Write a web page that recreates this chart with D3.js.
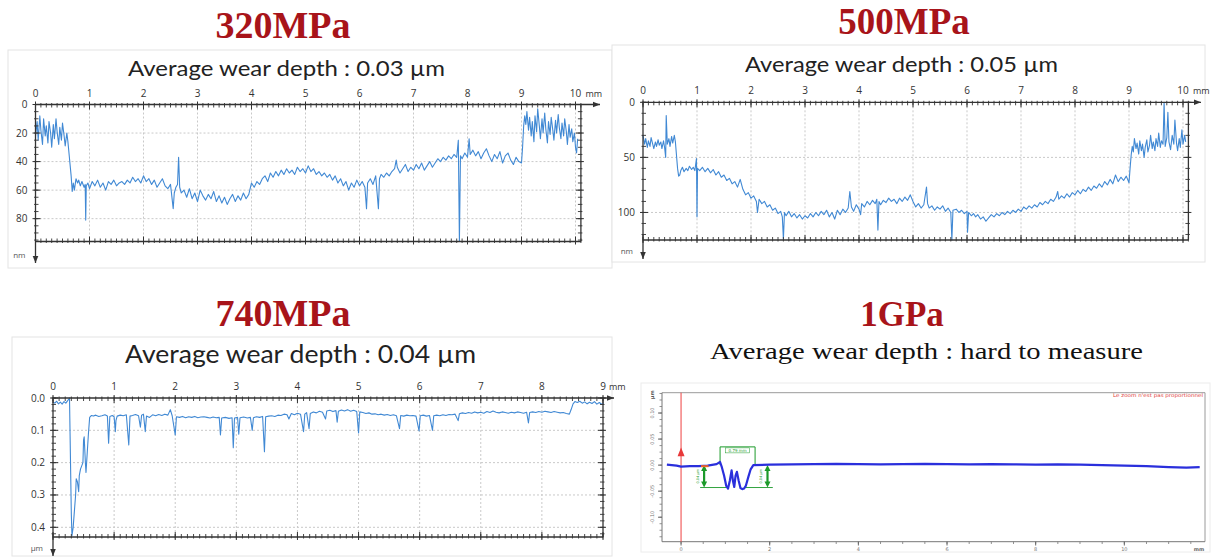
<!DOCTYPE html>
<html><head><meta charset="utf-8">
<script src="https://cdn.jsdelivr.net/npm/d3@7"></script>
<style>body{margin:0;background:#fff}svg{display:block}</style>
</head><body>
<svg id="c" width="1212" height="558"></svg>
<script>
// ---------------- DATA ----------------
const titles = ["320MPa", "500MPa", "740MPa", "1GPa"];
const subtitles = ["Average wear depth : 0.03 µm", "Average wear depth : 0.05 µm",
  "Average wear depth : 0.04 µm", "Average wear depth : hard to measure"];

const xTicks10 = [0,1,2,3,4,5,6,7,8,9,10];
const xTicks9 = [0,1,2,3,4,5,6,7,8,9];
const yTicks320 = [0,20,40,60,80];
const yTicks500 = [0,50,100];
const yTicks740 = [0,0.1,0.2,0.3,0.4];
const xTicks1G = [0,2,4,6,8,10];
const yTicks1G = [0.1,0.05,0,-0.05,-0.1];
const yLabels1G = ["0.10","0.05","0.00","-0.05","-0.10"];

// profile 320 MPa: [mm, depth nm]
const p320 = [[0,22],[0.03,12],[0.05,25],[0.08,8],[0.1,18],[0.13,28],[0.15,10],[0.18,22],[0.2,15],[0.23,27],[0.25,12],[0.28,20],[0.3,30],[0.33,14],[0.35,24],[0.38,10],[0.4,19],[0.43,28],[0.45,16],[0.48,25],[0.5,13],[0.53,22],[0.55,29],[0.58,20],[0.6,26],
[0.62,34],[0.64,42],[0.66,50],[0.68,61],[0.7,55],[0.72,60],[0.75,52],[0.78,55],[0.8,53],[0.83,57],[0.86,54],[0.9,58],[0.92,56],[0.93,81],[0.94,57],[0.97,55],[1,59],[1.05,54],[1.1,57],[1.15,53],[1.2,58],[1.25,55],[1.3,60],[1.35,54],[1.4,56],[1.45,53],[1.5,57],[1.55,55],[1.6,54],[1.65,56],[1.7,53],[1.75,55],[1.8,51],[1.85,54],[1.9,52],[1.95,55],[2,50],[2.05,54],[2.1,52],[2.15,56],[2.2,53],[2.25,58],[2.3,55],[2.35,52],[2.4,57],[2.45,59],[2.5,56],[2.55,73],[2.57,62],[2.6,58],[2.63,56],[2.65,37],[2.67,58],[2.7,62],[2.75,60],[2.8,65],[2.85,59],[2.9,66],[2.95,62],[3,68],[3.05,60],[3.1,64],[3.15,67],[3.2,63],[3.25,66],[3.3,61],[3.35,68],[3.4,64],[3.45,69],[3.5,65],[3.55,70],[3.6,66],[3.65,63],[3.7,68],[3.75,64],[3.8,67],[3.85,62],[3.9,66],[3.95,63],[4,55],[4.05,58],[4.1,54],[4.15,56],[4.2,52],[4.25,50],[4.3,54],[4.35,48],[4.4,51],[4.45,47],[4.5,50],[4.55,46],[4.6,49],[4.65,45],[4.7,48],[4.75,46],[4.8,49],[4.85,44],[4.9,47],[4.95,45],[5,48],[5.05,43],[5.1,47],[5.15,45],[5.2,49],[5.25,47],[5.3,50],[5.35,48],[5.4,51],[5.45,49],[5.5,53],[5.55,50],[5.6,55],[5.65,52],[5.7,57],[5.75,54],[5.8,60],[5.85,55],[5.9,58],[5.95,53],[6,57],[6.05,54],[6.1,58],[6.13,73],[6.15,55],[6.2,52],[6.25,56],[6.3,50],[6.35,73],[6.37,52],[6.4,49],[6.45,51],[6.5,48],[6.55,50],[6.6,47],[6.65,45],[6.68,39],[6.7,44],[6.75,48],[6.8,45],[6.85,42],[6.9,47],[6.95,44],[7,46],[7.05,42],[7.1,45],[7.15,41],[7.2,46],[7.25,43],[7.3,40],[7.35,44],[7.4,41],[7.45,38],[7.5,40],[7.55,37],[7.6,39],[7.65,36],[7.7,38],[7.75,35],[7.8,37],[7.83,25],[7.85,96],[7.87,36],[7.9,38],[7.95,34],[8,37],[8.03,24],[8.05,35],[8.1,32],[8.15,36],[8.2,33],[8.25,38],[8.3,34],[8.35,31],[8.4,36],[8.45,40],[8.5,35],[8.55,38],[8.6,33],[8.65,41],[8.7,36],[8.75,34],[8.8,39],[8.85,42],[8.9,37],[8.95,40],[9,41],[9.02,30],[9.04,15],[9.06,8],[9.08,14],[9.1,5],[9.13,18],[9.15,9],[9.18,22],[9.2,12],[9.23,26],[9.25,8],[9.28,19],[9.3,3],[9.33,15],[9.35,24],[9.38,10],[9.4,20],[9.43,6],[9.45,17],[9.48,27],[9.5,12],[9.53,21],[9.55,9],[9.58,18],[9.6,25],[9.63,11],[9.65,20],[9.68,7],[9.7,16],[9.73,24],[9.75,13],[9.78,22],[9.8,10],[9.83,19],[9.85,28],[9.88,14],[9.9,23],[9.93,17],[9.95,26],[9.98,20],[10,30],[10.02,34],[10.04,24]];

// profile 500 MPa: [mm, depth nm]
const p500 = [[0,30],[0.03,38],[0.05,33],[0.08,41],[0.1,35],[0.13,40],[0.15,32],[0.18,38],[0.2,42],[0.23,36],[0.25,40],[0.28,34],[0.3,39],[0.33,36],[0.35,42],[0.38,35],[0.4,41],[0.42,50],[0.43,12],[0.45,38],[0.48,33],[0.5,40],[0.53,31],[0.55,37],[0.58,30],[0.6,36],[0.62,48],[0.64,60],[0.66,67],[0.68,66],[0.7,62],[0.73,59],[0.76,63],[0.8,60],[0.83,62],[0.86,58],[0.9,61],[0.93,59],[0.96,62],[0.99,51],[1,104],[1.01,60],[1.05,62],[1.1,59],[1.15,63],[1.2,60],[1.25,64],[1.3,61],[1.35,66],[1.4,63],[1.45,68],[1.5,66],[1.55,71],[1.6,69],[1.65,74],[1.7,72],[1.75,77],[1.8,70],[1.85,79],[1.9,84],[1.95,82],[2,87],[2.05,85],[2.1,90],[2.12,100],[2.15,88],[2.2,92],[2.25,90],[2.3,95],[2.35,93],[2.4,98],[2.45,96],[2.5,101],[2.55,99],[2.58,104],[2.6,124],[2.62,100],[2.65,103],[2.7,99],[2.75,104],[2.8,101],[2.85,105],[2.9,102],[2.95,106],[3,103],[3.05,105],[3.1,101],[3.15,104],[3.2,100],[3.25,103],[3.3,99],[3.35,102],[3.4,98],[3.45,104],[3.5,100],[3.55,106],[3.6,98],[3.65,102],[3.7,97],[3.75,100],[3.8,96],[3.83,81],[3.86,95],[3.9,99],[3.95,93],[4,97],[4.03,102],[4.05,92],[4.1,95],[4.15,90],[4.2,93],[4.25,89],[4.3,92],[4.33,88],[4.35,116],[4.37,90],[4.4,93],[4.45,89],[4.5,91],[4.55,87],[4.6,90],[4.65,88],[4.7,92],[4.75,87],[4.8,90],[4.85,86],[4.9,89],[4.95,84],[5,90],[5.05,95],[5.1,92],[5.15,96],[5.2,93],[5.25,77],[5.27,92],[5.3,96],[5.35,94],[5.4,98],[5.45,95],[5.5,97],[5.55,94],[5.6,99],[5.65,96],[5.7,100],[5.72,125],[5.74,98],[5.8,97],[5.85,100],[5.9,98],[5.95,101],[6,99],[6.01,118],[6.03,100],[6.08,103],[6.12,101],[6.16,104],[6.2,102],[6.25,106],[6.3,104],[6.35,108],[6.4,105],[6.45,102],[6.5,104],[6.55,101],[6.6,103],[6.65,100],[6.7,102],[6.75,99],[6.8,101],[6.85,98],[6.9,100],[6.95,97],[7,99],[7.05,95],[7.1,97],[7.15,94],[7.2,96],[7.25,93],[7.3,95],[7.35,91],[7.4,93],[7.45,90],[7.5,92],[7.55,88],[7.6,90],[7.65,86],[7.68,81],[7.7,88],[7.75,85],[7.8,87],[7.85,83],[7.9,86],[7.95,82],[8,84],[8.05,80],[8.1,83],[8.15,79],[8.2,81],[8.25,77],[8.3,80],[8.35,76],[8.4,78],[8.45,74],[8.5,77],[8.55,72],[8.6,75],[8.65,70],[8.7,74],[8.75,66],[8.8,72],[8.85,68],[8.9,71],[8.95,67],[9,73],[9.02,60],[9.04,48],[9.06,40],[9.08,45],[9.1,33],[9.13,42],[9.15,37],[9.18,47],[9.2,35],[9.23,44],[9.25,38],[9.28,50],[9.3,41],[9.33,34],[9.35,45],[9.38,39],[9.4,30],[9.43,42],[9.45,36],[9.48,44],[9.5,33],[9.53,40],[9.55,28],[9.58,41],[9.6,35],[9.63,38],[9.65,0],[9.67,40],[9.7,32],[9.72,9],[9.74,36],[9.77,43],[9.8,30],[9.83,38],[9.85,16],[9.88,37],[9.9,44],[9.93,33],[9.95,41],[9.98,25],[10,38],[10.03,30],[10.05,36]];

// profile 740 MPa: [mm, depth µm]
const p740 = [[0,0.012],[0.03,0.016],[0.06,0.01],[0.09,0.018],[0.12,0.013],[0.15,0.019],[0.18,0.011],[0.21,0.016],[0.24,0.008],[0.26,0.003],[0.27,0],[0.28,0.12],[0.3,0.36],[0.31,0.426],[0.33,0.4],[0.35,0.35],[0.37,0.3],[0.38,0.25],[0.4,0.26],[0.42,0.29],[0.43,0.24],[0.45,0.22],[0.47,0.21],[0.49,0.2],[0.5,0.13],[0.51,0.12],[0.53,0.2],[0.54,0.23],[0.56,0.17],[0.58,0.11],[0.6,0.06],[0.63,0.054],[0.66,0.056],[0.7,0.053],[0.75,0.057],[0.8,0.055],[0.85,0.052],[0.89,0.056],[0.91,0.14],[0.93,0.057],[0.97,0.054],[1,0.058],[1.02,0.104],[1.03,0.07],[1.05,0.056],[1.1,0.053],[1.15,0.055],[1.2,0.052],[1.24,0.145],[1.26,0.056],[1.3,0.054],[1.35,0.051],[1.4,0.055],[1.43,0.09],[1.45,0.053],[1.48,0.05],[1.51,0.104],[1.53,0.056],[1.58,0.06],[1.63,0.052],[1.68,0.055],[1.73,0.051],[1.78,0.054],[1.83,0.05],[1.88,0.053],[1.92,0.036],[1.95,0.055],[2,0.114],[2.02,0.058],[2.07,0.06],[2.12,0.057],[2.17,0.061],[2.22,0.058],[2.27,0.06],[2.32,0.057],[2.37,0.061],[2.42,0.059],[2.47,0.058],[2.52,0.06],[2.57,0.062],[2.62,0.059],[2.67,0.061],[2.72,0.06],[2.74,0.114],[2.76,0.062],[2.82,0.06],[2.88,0.063],[2.93,0.061],[2.95,0.154],[2.97,0.062],[3.02,0.06],[3.04,0.112],[3.06,0.061],[3.12,0.059],[3.18,0.062],[3.23,0.06],[3.26,0.1],[3.28,0.061],[3.33,0.058],[3.38,0.06],[3.43,0.057],[3.46,0.166],[3.48,0.058],[3.53,0.056],[3.58,0.055],[3.63,0.057],[3.68,0.053],[3.73,0.054],[3.78,0.05],[3.83,0.052],[3.86,0.065],[3.9,0.048],[3.95,0.052],[4,0.047],[4.05,0.05],[4.1,0.104],[4.12,0.05],[4.15,0.045],[4.19,0.095],[4.21,0.048],[4.26,0.043],[4.31,0.046],[4.36,0.041],[4.41,0.044],[4.46,0.065],[4.48,0.04],[4.53,0.038],[4.58,0.042],[4.63,0.039],[4.65,0.075],[4.67,0.041],[4.72,0.037],[4.77,0.04],[4.82,0.036],[4.87,0.041],[4.92,0.038],[4.97,0.042],[5,0.108],[5.02,0.043],[5.07,0.045],[5.12,0.048],[5.17,0.046],[5.22,0.05],[5.27,0.049],[5.32,0.052],[5.37,0.05],[5.42,0.053],[5.47,0.051],[5.52,0.054],[5.57,0.052],[5.62,0.055],[5.67,0.095],[5.69,0.054],[5.74,0.056],[5.79,0.053],[5.84,0.055],[5.89,0.054],[5.94,0.056],[5.99,0.102],[6.01,0.055],[6.06,0.053],[6.11,0.056],[6.16,0.054],[6.21,0.1],[6.23,0.055],[6.28,0.053],[6.33,0.055],[6.38,0.052],[6.43,0.054],[6.48,0.051],[6.53,0.052],[6.58,0.05],[6.63,0.07],[6.65,0.049],[6.7,0.046],[6.75,0.048],[6.8,0.045],[6.85,0.047],[6.9,0.043],[6.95,0.046],[7,0.044],[7.05,0.047],[7.1,0.042],[7.15,0.045],[7.2,0.04],[7.25,0.044],[7.3,0.046],[7.35,0.043],[7.4,0.045],[7.45,0.047],[7.5,0.044],[7.55,0.046],[7.6,0.043],[7.65,0.045],[7.7,0.047],[7.75,0.044],[7.78,0.077],[7.8,0.045],[7.85,0.043],[7.9,0.045],[7.95,0.042],[8,0.044],[8.05,0.041],[8.1,0.043],[8.15,0.045],[8.2,0.042],[8.25,0.044],[8.3,0.046],[8.35,0.045],[8.4,0.048],[8.45,0.05],[8.48,0.035],[8.51,0.018],[8.54,0.011],[8.58,0.014],[8.62,0.01],[8.66,0.016],[8.7,0.012],[8.74,0.018],[8.78,0.013],[8.82,0.017],[8.86,0.011],[8.9,0.019],[8.94,0.014],[8.98,0.02],[9.01,0.016]];

// profile 1 GPa: [mm, height µm]
const p1g = [[-0.32,0.001],[-0.1,-0.001],[0,-0.003],[0.2,-0.002],[0.4,-0.002],[0.6,-0.001],[0.8,0.002],[0.88,0.006],[0.92,-0.004],[0.97,-0.02],[1.02,-0.04],[1.06,-0.045],[1.1,-0.03],[1.14,-0.01],[1.17,-0.03],[1.2,-0.042],[1.23,-0.02],[1.26,-0.013],[1.3,-0.03],[1.34,-0.044],[1.38,-0.046],[1.42,-0.045],[1.46,-0.04],[1.52,-0.022],[1.57,-0.008],[1.63,0],[2,0.001],[2.5,0.0015],[3,0.002],[3.5,0.0025],[4,0.002],[4.5,0.0015],[5,0.002],[5.5,0.0025],[6,0.002],[6.5,0.0015],[7,0.002],[7.5,0.0015],[8,0.001],[8.5,0.0015],[9,0.001],[9.5,0],[10,-0.001],[10.5,-0.002],[11,-0.004],[11.4,-0.005],[11.7,-0.004]];

// annotations on the 1 GPa profile (mm, µm)
const bracketTop1G = [0.88, 1.67, 0.035];
const depthLines1G = [[0.43, 1.06, -0.043], [1.44, 2.07, -0.043]];
const depthArrows1G = [0.52, 1.95];
const widthLabel1G = "0.79 mm";
const depthLabel1G = "0.04 µm";
const noteText1G = "Le zoom n'est pas proportionnel";

// ---------------- DRAW ----------------
const svg = d3.select("#c");
svg.append("rect").attr("width",1212).attr("height",558).attr("fill","#fff");
const defs = svg.append("defs");
defs.append("marker").attr("id","arr").attr("viewBox","0 0 10 10").attr("refX",10).attr("refY",5)
  .attr("markerWidth",7).attr("markerHeight",7).attr("markerUnits","userSpaceOnUse").attr("orient","auto")
  .append("path").attr("d","M0,1L10,5L0,9z").attr("fill","#333");

const TITLE_COLOR = "#a8141a";
const AX = "#333";
const TRACE = "#4189d4";

function title(txt, cx, base, size){
  svg.append("text").attr("x",cx).attr("y",base).attr("text-anchor","middle")
    .attr("font-family","'Liberation Serif','Times New Roman',serif").attr("font-weight","bold")
    .attr("font-size",size || 38).attr("fill",TITLE_COLOR).text(txt);
}
function subtitle(txt, x0, x1, base, size, serif){
  svg.append("text").attr("x",x0).attr("y",base)
    .attr("font-family", serif ? "'Liberation Serif',serif" : "Lato,'Open Sans',sans-serif")
    .attr("font-size",size).attr("fill", serif ? "#111" : "#222")
    .attr("textLength",x1-x0).attr("lengthAdjust","spacingAndGlyphs").text(txt);
}

function profile(c){
  const g = svg.append("g");
  g.append("rect").attr("x",c.box[0]).attr("y",c.box[1]).attr("width",c.box[2]-c.box[0]).attr("height",c.box[3]-c.box[1])
    .attr("fill","#fff").attr("stroke","#e4e4e4");
  const x = d3.scaleLinear().domain(c.xd).range(c.xr);
  const y = d3.scaleLinear().domain(c.yd).range(c.yr);
  const yTop = y(c.yd[0]), yBot = y(c.yd[1]), xL = x(c.xd[0]), xR = x(c.xd[1]);
  // grid
  g.selectAll(null).data(c.xt.filter(v=>v>c.xd[0] && v<c.xd[1])).join("line")
    .attr("x1",d=>x(d)).attr("x2",d=>x(d)).attr("y1",yTop).attr("y2",yBot)
    .attr("stroke","#c9c9c9").attr("stroke-dasharray","2,2");
  g.selectAll(null).data(c.yt.filter(v=>v>c.yd[0] && v<c.yd[1])).join("line")
    .attr("x1",xL).attr("x2",xR).attr("y1",d=>y(d)).attr("y2",d=>y(d))
    .attr("stroke","#c9c9c9").attr("stroke-dasharray","2,2");
  // trace
  g.append("path").datum(c.data)
    .attr("d", d3.line().x(d=>x(d[0])).y(d=>y(Math.min(d[1],c.yd[1]))))
    .attr("fill","none").attr("stroke",TRACE).attr("stroke-width",1.1).attr("stroke-linejoin","round");
  // axes lines
  g.append("line").attr("x1",xL).attr("x2",c.arrowX).attr("y1",yTop).attr("y2",yTop)
    .attr("stroke",AX).attr("stroke-width",1.3).attr("marker-end","url(#arr)");
  g.append("line").attr("x1",xL).attr("x2",xL).attr("y1",yTop).attr("y2",c.arrowY)
    .attr("stroke",AX).attr("stroke-width",1.3).attr("marker-end","url(#arr)");
  g.append("line").attr("x1",xL).attr("x2",xR).attr("y1",yBot).attr("y2",yBot).attr("stroke",AX).attr("stroke-width",1.3);
  g.append("line").attr("x1",xR).attr("x2",xR).attr("y1",yTop).attr("y2",yBot).attr("stroke",AX).attr("stroke-width",1.3);
  // ticks x (top and bottom)
  const xMinor = d3.range(c.xd[0], c.xd[1]+1e-9, c.xm);
  const yMinor = d3.range(c.yd[0], c.yd[1]+1e-9, c.ym);
  [[yTop,1],[yBot,-1]].forEach(([yy,s])=>{
    g.selectAll(null).data(xMinor).join("line").attr("x1",d=>x(d)).attr("x2",d=>x(d))
      .attr("y1",yy-1.5*s).attr("y2",yy+3*s).attr("stroke",AX).attr("stroke-width",0.9);
    g.selectAll(null).data(c.xt).join("line").attr("x1",d=>x(d)).attr("x2",d=>x(d))
      .attr("y1",yy-3*s).attr("y2",yy+5*s).attr("stroke",AX).attr("stroke-width",1);
  });
  [[xL,1],[xR,-1]].forEach(([xx,s])=>{
    g.selectAll(null).data(yMinor).join("line").attr("y1",d=>y(d)).attr("y2",d=>y(d))
      .attr("x1",xx-1.5*s).attr("x2",xx+3*s).attr("stroke",AX).attr("stroke-width",0.9);
    g.selectAll(null).data(c.yt).join("line").attr("y1",d=>y(d)).attr("y2",d=>y(d))
      .attr("x1",xx-3*s).attr("x2",xx+5*s).attr("stroke",AX).attr("stroke-width",1);
  });
  // labels
  const lab = {"font-family":"'Open Sans',sans-serif","font-size":10,"fill":"#333"};
  const tx = g.selectAll(null).data(c.xt).join("text").attr("x",d=>x(d)).attr("y",yTop-8)
    .attr("text-anchor","middle").text(d=>d);
  const ty = g.selectAll(null).data(c.yt).join("text").attr("x",xL-8).attr("y",d=>y(d)+3.5)
    .attr("text-anchor","end").text(c.yfmt);
  const last = c.xt[c.xt.length-1];
  const tu = g.append("text").attr("x",x(last)+(last>=10?10:6)).attr("y",yTop-8).text("mm");
  const tn = g.append("text").attr("x",xL-10).attr("y",c.arrowY-5).attr("text-anchor","end").text(c.unit);
  [tx,ty,tu,tn].forEach(s=>{ for(const k in lab) s.attr(k,lab[k]); });
  tu.attr("font-size",9); tn.attr("font-size",8).attr("fill","#555");
}

// 320 MPa
title(titles[0], 283, 38);
profile({box:[8,50,612,268], data:p320, xd:[0,10.1], xr:[35.5,35.5+54*10.1], yd:[0,96], yr:[104.5,241.5],
  xt:xTicks10, xm:0.1, yt:yTicks320, ym:5, yfmt:d=>d, unit:"nm", arrowX:600, arrowY:263});
subtitle(subtitles[0], 128, 445, 76, 22);

// 500 MPa
title(titles[1], 904, 34, 37);
profile({box:[612,45,1205,262], data:p500, xd:[0,10.1], xr:[643,643+54*10.1], yd:[0,125], yr:[102.3,240],
  xt:xTicks10, xm:0.1, yt:yTicks500, ym:10, yfmt:d=>d, unit:"nm", arrowX:1201, arrowY:259});
subtitle(subtitles[1], 745, 1058, 72, 22);

// 740 MPa
title(titles[2], 283, 326);
profile({box:[12,337,612,556], data:p740, xd:[0,9], xr:[53,603], yd:[0,0.43], yr:[398,537],
  xt:xTicks9, xm:0.1, yt:yTicks740, ym:0.02, yfmt:d3.format(".1f"), unit:"µm", arrowX:614, arrowY:556});
subtitle(subtitles[2], 125, 476, 363, 25);

// 1 GPa
title(titles[3], 902, 326, 35);
subtitle(subtitles[3], 710, 1143, 359, 23, true);
(function(){
  const g = svg.append("g");
  g.append("rect").attr("x",641).attr("y",383).attr("width",569).attr("height",169).attr("fill","#fff").attr("stroke","#ececec");
  const x = d3.scaleLinear().domain([-0.43, 11.82]).range([662, 1205]);
  const y = d3.scaleLinear().domain([-0.147, 0.139]).range([541.7, 392.7]);
  // frame
  g.append("line").attr("x1",662).attr("x2",1205).attr("y1",392.7).attr("y2",392.7).attr("stroke","#9a9a9a");
  g.append("line").attr("x1",1205).attr("x2",1205).attr("y1",392.7).attr("y2",541.7).attr("stroke","#9a9a9a");
  g.append("line").attr("x1",662).attr("x2",1205).attr("y1",541.7).attr("y2",541.7).attr("stroke","#777");
  g.append("line").attr("x1",662).attr("x2",662).attr("y1",392.7).attr("y2",541.7).attr("stroke","#777");
  // axis ticks
  const xm = d3.range(-0.0, 11.8, 0.5);
  g.selectAll(null).data(xm).join("line").attr("x1",d=>x(d)).attr("x2",d=>x(d)).attr("y1",541.7).attr("y2",544)
    .attr("stroke","#777").attr("stroke-width",0.8);
  g.selectAll(null).data(xTicks1G).join("line").attr("x1",d=>x(d)).attr("x2",d=>x(d)).attr("y1",541.7).attr("y2",545.5)
    .attr("stroke","#666");
  g.selectAll(null).data(xTicks1G).join("text").attr("x",d=>x(d)).attr("y",550.5).attr("text-anchor","middle")
    .attr("font-family","'DejaVu Sans',sans-serif").attr("font-size",5).attr("fill","#777").text(d=>d);
  g.append("text").attr("x",1199).attr("y",550.5).attr("text-anchor","middle")
    .attr("font-family","'DejaVu Sans',sans-serif").attr("font-size",5).attr("font-weight","bold").attr("fill","#666").text("mm");
  const ym = d3.range(-0.1375, 0.138, 0.0125);
  g.selectAll(null).data(ym).join("line").attr("y1",d=>y(d)).attr("y2",d=>y(d)).attr("x1",659.5).attr("x2",662)
    .attr("stroke","#777").attr("stroke-width",0.8);
  g.selectAll(null).data(yTicks1G).join("line").attr("y1",d=>y(d)).attr("y2",d=>y(d)).attr("x1",658).attr("x2",662)
    .attr("stroke","#666");
  g.selectAll(null).data(yTicks1G).join("text")
    .attr("transform",(d)=>`translate(654,${y(d)}) rotate(-90)`).attr("text-anchor","middle")
    .attr("font-family","'DejaVu Sans',sans-serif").attr("font-size",5).attr("fill","#777").text((d,i)=>yLabels1G[i]);
  g.append("text").attr("transform",`translate(654,${y(0.135)}) rotate(-90)`).attr("text-anchor","middle")
    .attr("font-family","'DejaVu Sans',sans-serif").attr("font-size",5).attr("font-weight","bold").attr("fill","#555").text("µm");
  // note
  g.append("text").attr("x",1203).attr("y",397).attr("text-anchor","end").attr("font-family","'DejaVu Sans',sans-serif")
    .attr("font-size",5).attr("fill","#e03a3a").attr("textLength",90).attr("lengthAdjust","spacingAndGlyphs").text(noteText1G);
  // red cursor
  g.append("line").attr("x1",x(0)).attr("x2",x(0)).attr("y1",392.7).attr("y2",541.7).attr("stroke","#ee4040").attr("stroke-width",1);
  g.append("path").attr("d",`M${x(0)-3.5},${y(0.017)}L${x(0)},${y(0.034)}L${x(0)+3.5},${y(0.017)}Z`).attr("fill","#e8393a");
  // green annotations
  const G = "#1c9a2a";
  const b = bracketTop1G;
  g.append("path").attr("d",`M${x(b[0])},${y(0)}V${y(b[2])}H${x(b[1])}V${y(0)}`).attr("fill","none").attr("stroke",G).attr("stroke-width",1);
  g.append("rect").attr("x",x((b[0]+b[1])/2)-12).attr("y",y(b[2])+1).attr("width",24).attr("height",5).attr("fill","#fff").attr("stroke",G).attr("stroke-width",0.5);
  g.append("text").attr("x",x((b[0]+b[1])/2)).attr("y",y(b[2])+5.2).attr("text-anchor","middle").attr("font-family","'DejaVu Sans',sans-serif")
    .attr("font-size",4).attr("fill",G).text(widthLabel1G);
  depthLines1G.forEach(l=>{
    g.append("line").attr("x1",x(l[0])).attr("x2",x(l[1])).attr("y1",y(l[2])).attr("y2",y(l[2])).attr("stroke",G).attr("stroke-width",0.9);
  });
  depthArrows1G.forEach(a=>{
    const xx = x(a), y0 = y(0), y1 = y(-0.043);
    g.append("line").attr("x1",xx).attr("x2",xx).attr("y1",y0+3).attr("y2",y1-3).attr("stroke",G).attr("stroke-width",2.2);
    g.append("path").attr("d",`M${xx-3},${y0+6}L${xx},${y0}L${xx+3},${y0+6}Z`).attr("fill",G);
    g.append("path").attr("d",`M${xx-3},${y1-6}L${xx},${y1}L${xx+3},${y1-6}Z`).attr("fill",G);
    g.append("text").attr("transform",`translate(${xx-5},${(y0+y1)/2}) rotate(-90)`).attr("text-anchor","middle")
      .attr("font-family","'DejaVu Sans',sans-serif").attr("font-size",3.5).attr("fill",G).text(depthLabel1G);
  });
  // profile
  g.append("path").datum(p1g).attr("d", d3.line().x(d=>x(d[0])).y(d=>y(d[1])))
    .attr("fill","none").attr("stroke","#2a2fdc").attr("stroke-width",2.2).attr("stroke-linejoin","round");
  g.append("line").attr("x1",x(0.45)).attr("x2",x(0.62)).attr("y1",y(-0.002)).attr("y2",y(-0.002)).attr("stroke","#f0642a").attr("stroke-width",2);
})();
</script>
</body></html>
